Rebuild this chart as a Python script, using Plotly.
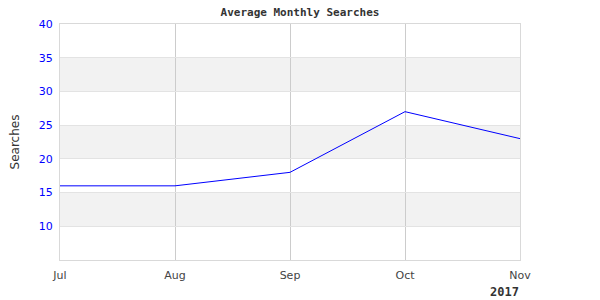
import plotly.graph_objects as go

months = ["Jul", "Aug", "Sep", "Oct", "Nov"]
searches = [16, 16, 18, 27, 23]
y_ticks = [10, 15, 20, 25, 30, 35, 40]
bands = [(10, 15), (20, 25), (30, 35)]

x_idx = list(range(len(months)))

fig = go.Figure()
fig.add_trace(go.Scatter(x=x_idx, y=searches, mode="lines",
                         line=dict(color="#0000ff", width=1), hoverinfo="skip"))

for lo, hi in bands:
    fig.add_shape(type="rect", xref="paper", yref="y", x0=0, x1=1, y0=lo, y1=hi,
                  fillcolor="#f2f2f2", line=dict(width=0), layer="below")

fig.update_layout(
    width=600, height=300,
    margin=dict(l=60, r=80, t=24, b=40),
    paper_bgcolor="white", plot_bgcolor="white",
    showlegend=False,
    title=dict(text="<b>Average Monthly Searches</b>", x=300/600, xanchor="center",
               y=1 - 12/300, yanchor="middle",
               font=dict(family="DejaVu Sans Mono", size=11, color="#333333")),
    xaxis=dict(range=[0, 4], tickvals=x_idx, ticktext=months,
               showgrid=True, gridcolor="#cccccc", gridwidth=1,
               zeroline=False, showline=True, linecolor="#d9d9d9", mirror=True,
               ticks="outside", ticklen=5, tickcolor="rgba(0,0,0,0)",
               tickfont=dict(family="DejaVu Sans", size=11, color="#444444")),
    yaxis=dict(range=[5, 40], tickvals=y_ticks,
               showgrid=True, gridcolor="#e3e3e3", gridwidth=1,
               zeroline=False, showline=True, linecolor="#d9d9d9", mirror=True,
               ticks="outside", ticklen=4, tickcolor="rgba(0,0,0,0)",
               tickfont=dict(family="DejaVu Sans", size=11, color="#0000ff"),
               title=dict(text="Searches", standoff=16,
                          font=dict(family="DejaVu Sans", size=12, color="#333333"))),
    annotations=[dict(text="<b>2017</b>", xref="paper", yref="paper",
                      x=(521 - 60) / 460, y=-32 / 236, xanchor="right", yanchor="middle",
                      showarrow=False,
                      font=dict(family="DejaVu Sans Mono", size=12, color="#333333"))],
)

fig.write_html("out.html")
